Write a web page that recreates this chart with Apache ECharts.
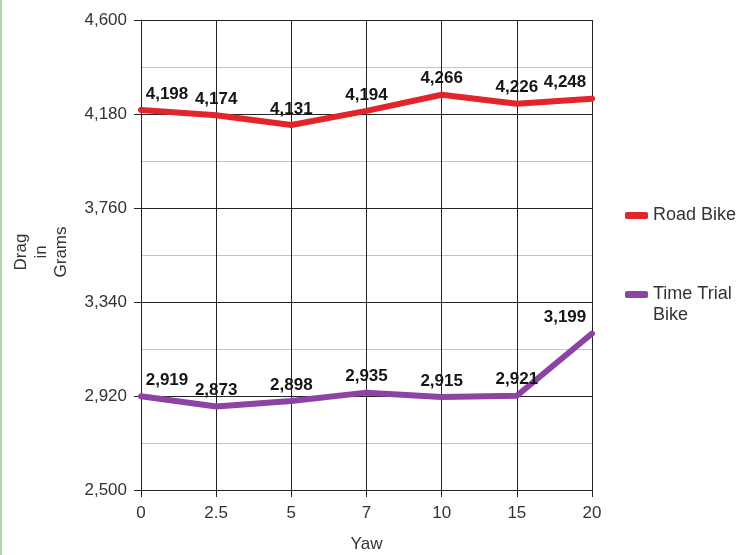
<!DOCTYPE html>
<html>
<head>
<meta charset="utf-8">
<script src="https://cdn.jsdelivr.net/npm/echarts@6/dist/echarts.min.js"></script>
<style>
  html, body { margin: 0; padding: 0; background: #fff; }
  #chart { width: 740px; height: 555px; }
</style>
</head>
<body>
<div id="chart"></div>
<script>
// Yaw angles (category axis) and drag measurements in grams
const yawAngles = ['0', '2.5', '5', '7', '10', '15', '20'];
const roadBike = [4198, 4174, 4131, 4194, 4266, 4226, 4248];
const timeTrialBike = [2919, 2873, 2898, 2935, 2915, 2921, 3199];

const yMin = 2500;
const yMax = 4600;
const yStep = 420;

const fmt = v => Number(v).toLocaleString('en-US');

// Shift the first and last value labels inward so they stay inside the plot
function withLabelOffsets(values) {
  return values.map((v, i) => {
    const item = { value: v };
    if (i === 0) item.label = { offset: [26, 0] };
    if (i === values.length - 1) item.label = { offset: [-27, 0] };
    return item;
  });
}

const font = '"Liberation Sans", Arial, Helvetica, sans-serif';

const valueLabel = {
  show: true,
  position: 'top',
  distance: 7,
  color: '#151515',
  fontFamily: font,
  fontWeight: 'bold',
  fontSize: 17,
  formatter: p => fmt(p.value)
};

const chart = echarts.init(document.getElementById('chart'), null, { renderer: 'canvas' });

chart.setOption({
  animation: false,
  backgroundColor: '#ffffff',
  textStyle: { fontFamily: font },
  grid: { left: 141, right: 148, top: 20, bottom: 65, containLabel: false, outerBoundsMode: 'none' },
  legend: [
    {
      data: ['Road Bike'],
      orient: 'vertical',
      left: 625,
      top: 205,
      padding: 0,
      icon: 'roundRect',
      itemWidth: 23,
      itemHeight: 7,
      textStyle: { fontFamily: font, fontSize: 18, lineHeight: 21, color: '#333' }
    },
    {
      data: ['Time Trial Bike'],
      orient: 'vertical',
      left: 625,
      top: 263,
      padding: 0,
      icon: 'roundRect',
      itemWidth: 23,
      itemHeight: 7,
      // blank first line keeps "Time Trial" level with the swatch
      formatter: () => ' \nTime Trial\nBike',
      textStyle: { fontFamily: font, fontSize: 18, lineHeight: 21, color: '#333' }
    }
  ],
  xAxis: {
    type: 'category',
    data: yawAngles,
    boundaryGap: false,
    name: 'Yaw',
    nameLocation: 'middle',
    nameGap: 46,
    nameTextStyle: { fontFamily: font, fontSize: 17, color: '#333' },
    axisLine: { lineStyle: { color: '#222', width: 1 } },
    axisTick: { show: true, length: 7, lineStyle: { color: '#222' } },
    axisLabel: { fontFamily: font, fontSize: 17, color: '#333', margin: 15 },
    splitLine: { show: true, lineStyle: { color: '#222', width: 1 } }
  },
  yAxis: {
    type: 'value',
    min: yMin,
    max: yMax,
    interval: yStep,
    axisLine: { show: true, lineStyle: { color: '#222', width: 1 } },
    axisTick: { show: true, length: 7, lineStyle: { color: '#222' } },
    axisLabel: { fontFamily: font, fontSize: 17, color: '#333', margin: 14, formatter: v => fmt(v) },
    splitLine: { show: true, lineStyle: { color: '#222', width: 1 } },
    minorTick: { show: false, splitNumber: 2 },
    minorSplitLine: { show: true, lineStyle: { color: '#c4c4c4', width: 1 } }
  },
  series: [
    {
      name: 'Road Bike',
      type: 'line',
      data: withLabelOffsets(roadBike),
      symbol: 'circle',
      symbolSize: 1,
      showSymbol: true,
      color: '#e1252c',
      lineStyle: { width: 6, color: '#e1252c', cap: 'round', join: 'round' },
      label: valueLabel,
      z: 3
    },
    {
      name: 'Time Trial Bike',
      type: 'line',
      data: withLabelOffsets(timeTrialBike),
      symbol: 'circle',
      symbolSize: 1,
      showSymbol: true,
      color: '#8c43a3',
      lineStyle: { width: 6, color: '#8c43a3', cap: 'round', join: 'round' },
      label: valueLabel,
      z: 3
    }
  ],
  graphic: [
    {
      type: 'text',
      x: 41,
      y: 252,
      rotation: Math.PI / 2,
      style: {
        text: 'Drag\nin\nGrams',
        fontFamily: font,
        fontSize: 17,
        lineHeight: 20,
        fill: '#333',
        align: 'center',
        verticalAlign: 'middle'
      }
    },
    {
      type: 'rect',
      left: 0,
      top: 0,
      shape: { x: 0, y: 0, width: 2, height: 555 },
      style: { fill: '#a9d9ad' }
    }
  ]
});
</script>
</body>
</html>
